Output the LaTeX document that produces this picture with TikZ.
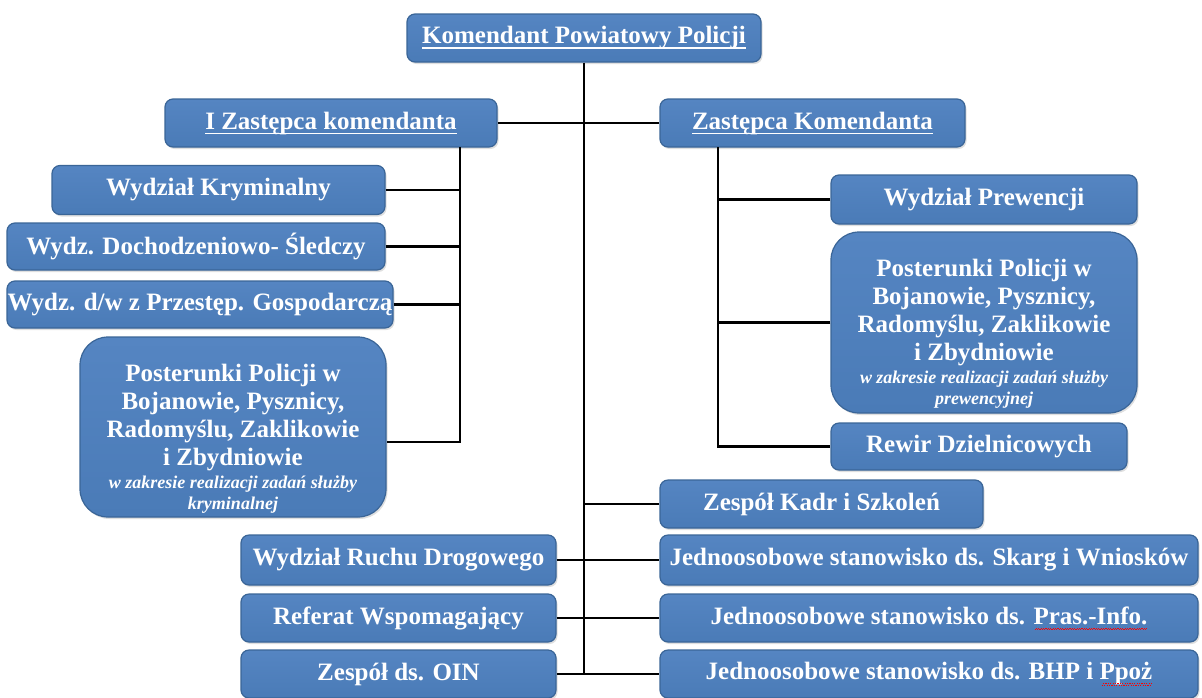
\documentclass[tikz,border=0pt]{standalone}
\usepackage{fontspec}
\setmainfont{Liberation Serif}
\usetikzlibrary{shadows}

\definecolor{boxtop}{HTML}{5585C2}
\definecolor{boxbottom}{HTML}{4A7BB7}
\definecolor{boxedge}{HTML}{3A6597}
\newsavebox{\ulsave}
\newcommand{\ulinetext}[1]{\sbox{\ulsave}{#1}\rlap{\usebox{\ulsave}}\rule[-5pt]{\wd\ulsave}{1.5pt}}
\newcommand{\spellwave}[1]{\sbox{\ulsave}{#1}\rlap{\usebox{\ulsave}}{\color{red}\leaders\hbox{\raisebox{-5.6pt}{\rule{1.2pt}{0.8pt}}\raisebox{-4.4pt}{\rule{1.2pt}{0.8pt}}}\hskip\wd\ulsave}}
\newcommand{\smallnote}{\fontsize{18}{21}\selectfont\itshape}

\tikzset{
  orgbox/.style={draw=boxedge, line width=1.2pt, top color=boxtop, bottom color=boxbottom,
    rounded corners=8pt, text=white, inner sep=0pt, align=center,
    font=\bfseries\fontsize{25}{28}\selectfont,
    drop shadow={opacity=0.25, shadow xshift=1.5pt, shadow yshift=-2pt}},
  bigbox/.style={orgbox, rounded corners=28pt},
  conn/.style={line width=2.6pt, black}
}

\begin{document}
\begin{tikzpicture}[x=1pt, y=-1pt]
            \useasboundingbox (0,0) rectangle (1202,697);

            % Root node
            \node[orgbox, minimum width=354pt, minimum height=48pt] (kpp) at (584,38) {\ulinetext{Komendant Powiatowy Policji}};

            % Deputies
            \node[orgbox, minimum width=332pt, minimum height=48pt] (dep1) at (331,123) {\ulinetext{I Zastępca komendanta}};
            \node[orgbox, minimum width=305pt, minimum height=48pt] (dep2) at (812.5,123) {\ulinetext{Zastępca Komendanta}};

            % Left branch
            \node[orgbox, minimum width=333pt, minimum height=49pt] (krym) at (218.5,190) {Wydział Kryminalny};
            \node[orgbox, minimum width=378pt, minimum height=47pt] (doch) at (196,246.5) {Wydz. Dochodzeniowo- Śledczy};
            \node[orgbox, minimum width=386pt, minimum height=47pt] (gosp) at (200,304.5) {Wydz. d/w z Przestęp. Gospodarczą};
            \node[bigbox, minimum width=306pt, minimum height=180pt] (post1) at (233,427) {\rule{0pt}{40pt}Posterunki Policji w\\ Bojanowie, Pysznicy,\\ Radomyślu, Zaklikowie\\ i Zbydniowie\\[-5pt] {\smallnote w zakresie realizacji zadań służby}\\[-7pt] {\smallnote kryminalnej}};

            % Right branch
            \node[orgbox, minimum width=306pt, minimum height=49pt] (prew) at (984,199.5) {Wydział Prewencji};
            \node[bigbox, minimum width=306pt, minimum height=181pt] (post2) at (984,322.5) {\rule{0pt}{40pt}Posterunki Policji w\\ Bojanowie, Pysznicy,\\ Radomyślu, Zaklikowie\\ i Zbydniowie\\[-5pt] {\smallnote w zakresie realizacji zadań służby}\\[-7pt] {\smallnote prewencyjnej}};
            \node[orgbox, minimum width=296pt, minimum height=47pt] (rewir) at (979,446.5) {Rewir Dzielnicowych};

            % Units under the commander
            \node[orgbox, minimum width=323pt, minimum height=48pt] (kadr) at (821.5,504) {Zespół Kadr i Szkoleń};
            \node[orgbox, minimum width=315pt, minimum height=50pt] (ruch) at (398.5,560) {Wydział Ruchu Drogowego};
            \node[orgbox, minimum width=315pt, minimum height=48pt] (refw) at (398.5,618) {Referat Wspomagający};
            \node[orgbox, minimum width=315pt, minimum height=48pt] (oin) at (398.5,674) {Zespół ds. OIN};
            \node[orgbox, minimum width=538pt, minimum height=50pt] (skarg) at (929,560) {Jednoosobowe stanowisko ds. Skarg i Wniosków};
            \node[orgbox, minimum width=538pt, minimum height=48pt] (pras) at (929,618) {Jednoosobowe stanowisko ds. \spellwave{Pras.-Info.}};
            \node[orgbox, minimum width=538pt, minimum height=48pt] (bhp) at (929,674) {Jednoosobowe stanowisko ds. BHP i \spellwave{Ppoż}};

            % Connectors
            \coordinate (lbus) at (460,147);
            \coordinate (rbus) at (718,147);
            \draw[conn] (kpp.south) -- (kpp.south |- oin.east);
            \draw[conn] (dep1.east) -- (dep2.west);
            \draw[conn] (lbus) |- ([yshift=-15pt]post1.east);
            \foreach \unit in {krym,doch,gosp}
              \draw[conn] (\unit.east) -| (lbus);
            \draw[conn] (rbus) |- (rewir.west);
            \foreach \unit in {prew,post2}
              \draw[conn] (\unit.west) -| (rbus);
            \draw[conn] (kadr.west) -- (kadr.west -| kpp.south);
            \draw[conn] (ruch.east) -- (skarg.west);
            \draw[conn] (refw.east) -- (pras.west);
            \draw[conn] (oin.east) -- (bhp.west);
        \end{tikzpicture}
\end{document}
